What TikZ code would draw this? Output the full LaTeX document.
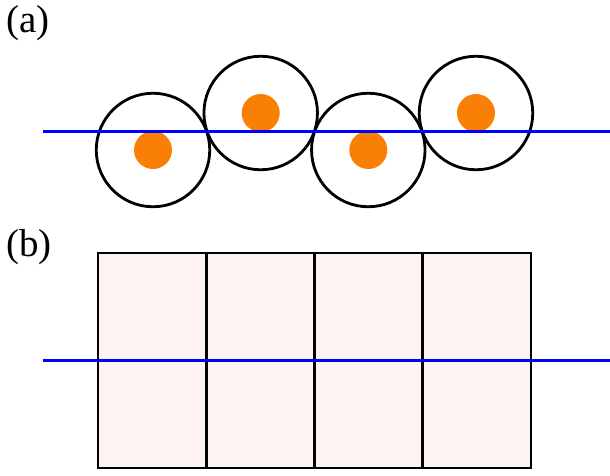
\documentclass[tikz,border=0pt]{standalone}
\usepackage{fontspec}
\setmainfont{Liberation Serif}
\usepackage{xcolor}

\definecolor{dotorange}{HTML}{FA8005}
\definecolor{cellpink}{HTML}{FEF3F3}

\begin{document}
\begin{tikzpicture}[
  x=1pt, y=-1pt,
  grain/.style={circle,draw,line width=2.8pt,minimum size=113.5pt,inner sep=0pt},
  core/.style={circle,fill=dotorange,minimum size=38pt,inner sep=0pt},
  cell/.style={rectangle,draw,fill=cellpink,line width=2.8pt,minimum width=108.25pt,minimum height=215pt,inner sep=0pt},
  axis/.style={blue,line width=3pt},
  panel/.style={anchor=base west,inner sep=0pt,font=\fontsize{39}{41}\selectfont}
]
  \useasboundingbox (0,0) rectangle (610,475);
  % panel (a)
  \node[panel] (la) at (6,32) {(a)};
  \node[grain] (g1) at (153,150) {};
  \node[grain] (g2) at (260.7,113) {};
  \node[grain] (g3) at (368.3,150) {};
  \node[grain] (g4) at (476,113) {};
  \node[core] (d1) at (g1) {};
  \node[core] (d2) at (g2) {};
  \node[core] (d3) at (g3) {};
  \node[core] (d4) at (g4) {};
  \coordinate (a0) at (43,131.7);
  \coordinate (a1) at (610,131.7);
  \draw[axis] (a0) -- (a1);
  % panel (b)
  \node[panel] (lb) at (6,256) {(b)};
  \node[cell] (r1) at (152.1,360.5) {};
  \node[cell] (r2) at (260.4,360.5) {};
  \node[cell] (r3) at (368.6,360.5) {};
  \node[cell] (r4) at (476.9,360.5) {};
  \coordinate (b0) at (43,360);
  \coordinate (b1) at (610,360);
  \draw[axis] (b0) -- (b1);
\end{tikzpicture}
\end{document}
